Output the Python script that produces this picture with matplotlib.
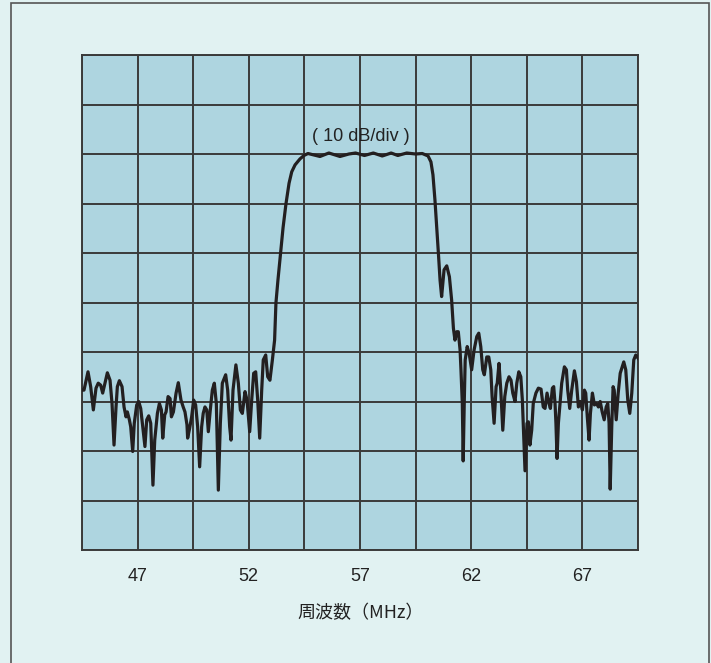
import matplotlib
matplotlib.use("Agg")
import matplotlib.pyplot as plt
from matplotlib.patches import Rectangle

# frequency (MHz) and level (dB, passband = 0 dB)
freq = [
    44.50, 44.59, 44.77, 44.89, 45.01, 45.13, 45.23, 45.34, 45.43, 45.53,
    45.64, 45.76, 45.85, 45.94, 46.03, 46.09, 46.18, 46.30, 46.39, 46.48,
    46.54, 46.63, 46.69, 46.78, 46.85, 46.96, 47.05, 47.14, 47.23, 47.33,
    47.41, 47.50, 47.59, 47.69, 47.77, 47.89, 47.98, 48.07, 48.13, 48.22,
    48.28, 48.37, 48.46, 48.52, 48.61, 48.73, 48.83, 48.95, 49.05, 49.13,
    49.22, 49.25, 49.34, 49.43, 49.52, 49.61, 49.70, 49.79, 49.88, 49.95,
    50.03, 50.11, 50.18, 50.26, 50.36, 50.45, 50.54, 50.63, 50.72, 50.81,
    50.96, 51.05, 51.14, 51.20, 51.29, 51.42, 51.53, 51.62, 51.71, 51.83,
    51.92, 52.04, 52.13, 52.22, 52.31, 52.40, 52.49, 52.58, 52.65, 52.76,
    52.85, 52.95, 53.06,
    # rising edge
    53.16, 53.22, 53.31, 53.43, 53.54, 53.67, 53.81, 53.93, 54.08, 54.30,
    54.48,
    # passband ripple
    54.66, 55.20, 55.60, 56.10, 56.50, 56.80, 57.20, 57.60, 58.00, 58.40,
    58.70, 59.10, 59.50, 59.80,
    # falling edge
    60.06, 60.19, 60.28, 60.37, 60.46, 60.53, 60.60, 60.67, 60.78, 60.90,
    61.02, 61.12, 61.20, 61.27, 61.35, 61.42, 61.50, 61.54, 61.60, 61.64,
    61.69, 61.73, 61.82, 61.91, 62.02, 62.13, 62.25, 62.34, 62.43, 62.52,
    62.59, 62.70, 62.79, 62.88, 62.94, 63.03, 63.12, 63.17, 63.25, 63.33,
    63.42, 63.51, 63.60, 63.70, 63.79, 63.87, 63.97, 64.05, 64.14, 64.23,
    64.30, 64.37, 64.42, 64.51, 64.57, 64.64, 64.72, 64.79, 64.91, 65.02,
    65.14, 65.24, 65.32, 65.41, 65.50, 65.56, 65.65, 65.71, 65.77, 65.81,
    65.86, 65.92, 65.98, 66.07, 66.19, 66.28, 66.34, 66.43, 66.52, 66.64,
    66.73, 66.82, 66.91, 67.00, 67.09, 67.15, 67.22, 67.30, 67.36, 67.45,
    67.54, 67.63, 67.72, 67.80, 67.89, 67.98, 68.07, 68.14, 68.20, 68.25,
    68.32, 68.38, 68.43, 68.52, 68.61, 68.70, 68.86, 68.95, 69.04, 69.13,
    69.22, 69.31, 69.40, 69.51,
]
level = [
    -47.7, -47.7, -44.0, -47.0, -51.7, -47.3, -46.3, -46.7, -48.3, -46.3,
    -44.2, -45.7, -50.4, -58.8, -51.1, -47.0, -45.8, -47.0, -51.1, -53.1,
    -52.1, -53.7, -55.1, -60.1, -54.4, -50.7, -50.0, -51.4, -55.1, -59.1,
    -53.7, -52.9, -54.4, -66.9, -57.8, -52.4, -50.4, -51.7, -57.4, -52.7,
    -52.1, -49.0, -49.4, -53.1, -52.1, -48.3, -46.2, -49.7, -51.1, -52.1,
    -54.7, -57.4, -55.4, -53.1, -49.7, -50.7, -55.1, -63.2, -55.1, -52.4,
    -51.1, -51.7, -56.1, -52.1, -47.7, -46.3, -50.4, -67.9, -54.4, -46.3,
    -44.6, -47.7, -55.1, -57.8, -47.7, -42.6, -46.3, -51.7, -52.4, -48.0,
    -49.7, -56.1, -49.7, -44.3, -44.0, -49.7, -57.4, -47.7, -41.6, -40.6,
    -45.0, -45.7, -41.6,
    -37.6, -30.1, -25.5, -20.0, -14.9, -10.1, -5.9, -3.6, -2.2, -1.0,
    -0.3,
    0.1, -0.5, 0.2, -0.5, 0.0, 0.2, -0.3, 0.2, -0.4, 0.2,
    -0.3, 0.2, 0.0, 0.1,
    -0.4, -1.6, -4.2, -9.3, -15.4, -20.4, -25.5, -28.8, -23.4, -22.6,
    -24.8, -29.5, -35.2, -37.6, -35.9, -35.9, -39.6, -43.6, -50.4, -62.0,
    -49.7, -41.6, -38.9, -40.3, -43.6, -39.6, -36.9, -36.2, -38.9, -43.6,
    -44.6, -41.0, -41.0, -43.6, -49.0, -54.4, -47.0, -46.3, -42.3, -47.7,
    -55.8, -49.0, -46.3, -45.0, -45.7, -48.3, -50.0, -46.3, -44.0, -45.0,
    -49.7, -58.4, -64.0, -54.4, -54.1, -58.8, -55.8, -50.4, -48.3, -47.3,
    -47.5, -51.1, -51.4, -48.3, -50.4, -51.4, -47.3, -47.0, -50.4, -54.4,
    -61.5, -54.4, -51.1, -46.3, -43.0, -43.6, -47.7, -51.4, -47.7, -43.8,
    -46.0, -51.1, -50.0, -51.7, -47.7, -48.3, -53.1, -57.8, -52.4, -48.3,
    -50.7, -50.4, -51.1, -50.0, -52.1, -53.7, -51.1, -50.4, -54.4, -67.7,
    -55.1, -47.0, -47.7, -53.7, -48.3, -44.3, -42.0, -43.6, -49.7, -52.4,
    -48.3, -41.6, -40.6, -41.3,
]

x_ticks = [47, 52, 57, 62, 67]
x_grid = [44.5 + 2.5 * i for i in range(11)]
y_grid = [20 - 10 * i for i in range(11)]

bg = "#e1f2f2"
plot_bg = "#aed5e0"
grid_c = "#3a3a3a"

fig = plt.figure(figsize=(7.11, 6.63), dpi=100, facecolor=bg)
ax = fig.add_axes([82 / 711, 1 - 550 / 663, 556 / 711, 495 / 663])
ax.set_facecolor(plot_bg)

ax.set_xlim(44.5, 69.5)
ax.set_ylim(-80, 20)
ax.set_xticks(x_grid)
ax.set_yticks(y_grid)
ax.grid(True, color=grid_c, linewidth=1.4)
ax.tick_params(length=0, labelleft=False, labelbottom=False)
for s in ax.spines.values():
    s.set_color(grid_c)
    s.set_linewidth(1.4)

ax.plot(freq, level, color="#231f20", linewidth=2.3, solid_joinstyle="round", zorder=3)

# tick labels sit ~27 px below the plot
for t in x_ticks:
    ax.text(t, -80 - 26.7 / 4.95, str(t), ha="center", va="center",
            fontsize=13, color="#222222", family="Liberation Sans", clip_on=False)

ax.text(57.05, 3.5, "( 10 dB/div )", ha="center", va="center", fontsize=13,
        color="#222222", family="Liberation Sans")

fig.text(361 / 711, 1 - 613 / 663, "周波数（MHz）", ha="center", va="center",
         fontsize=13, color="#222222", family=["Noto Sans CJK JP", "DejaVu Sans"])

fig.patches.append(Rectangle((11 / 711, -0.1), 698 / 711, 1.1 - 3 / 663,
                             transform=fig.transFigure, facecolor="none",
                             edgecolor="#555555", linewidth=1.2))

fig.savefig("out.png", dpi=100, facecolor=bg)
